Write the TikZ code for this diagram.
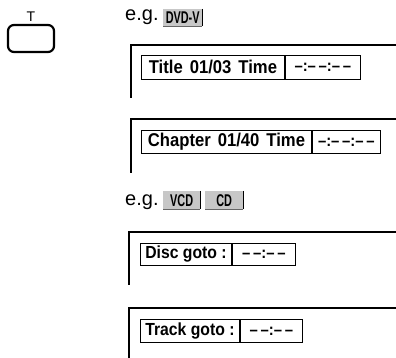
\documentclass[tikz,border=0pt]{standalone}
\usepackage{fontspec}
\setmainfont{Liberation Sans}
\newfontfamily\cond[FakeStretch=0.9]{Liberation Sans}
\newfontfamily\badgefont[FakeStretch=0.64]{Liberation Sans}
\begin{document}
\begin{tikzpicture}[x=1pt,y=-1pt,
  frame/.style={line width=2pt},
  cell/.style={draw, line width=0.9pt, inner sep=0pt, minimum height=24pt,
    font=\cond\bfseries\fontsize{18.5}{20}\selectfont, anchor=north west},
  gcell/.style={cell, font=\cond\bfseries\fontsize{17.5}{19}\selectfont},
  dcell/.style={cell, font=\cond\bfseries\fontsize{16.5}{18}\selectfont, anchor=west},
  badge/.style={fill=black!22, inner sep=0pt, minimum height=17pt,
    font=\badgefont\bfseries\fontsize{17}{18}\selectfont, anchor=north west},
  eg/.style={font=\fontsize{20}{22}\selectfont, anchor=base west, inner sep=0pt},
  btn/.style={draw, line width=2.2pt, rounded corners=6pt, minimum width=46pt,
    minimum height=27pt, inner sep=0pt}
]
\useasboundingbox (0,0) rectangle (396,358);

% button
\node[btn] (btn) at (31,38.5) {};
\node[font=\fontsize{14}{15}\selectfont, inner sep=0pt, anchor=south] (tlab) at (31,22) {T};

% DVD-V example
\node[eg] (eg1) at (125,21) {e.g.};
\node[badge, minimum width=39pt] (dvdv) at (163,9) {DVD-V};
\draw[line width=1.4pt] (dvdv.north east) -- (dvdv.south east);
\draw[line width=1pt, black!60] (dvdv.south west) -- (dvdv.south east);

% frame 1
\draw[frame] (396,45) -| (131,98);
\node[cell, minimum width=143pt] (title) at (141,55) {Title\hspace{7pt}01/03\hspace{7pt}Time};
\node[dcell, minimum width=75pt] (ttime) at (title.east) {–:–\,–:–\,–};

% frame 2
\draw[frame] (396,119) -| (131,173);
\node[cell, minimum width=170pt, minimum height=23pt] (chap) at (141,130) {Chapter\hspace{7pt}01/40\hspace{7pt}Time};
\node[dcell, minimum width=68pt, minimum height=23pt] (ctime) at (chap.east) {–:–\,–:–\,–};

% VCD/CD example
\node[eg] (eg2) at (125,205) {e.g.};
\node[badge, minimum width=37pt, minimum height=18pt] (vcd) at (163,191) {VCD};
\draw[line width=1.4pt] (vcd.north east) -- (vcd.south east);
\draw[line width=1pt, black!60] (vcd.south west) -- (vcd.south east);
\node[badge, minimum width=38pt, minimum height=18pt] (cd) at (205,191) {CD};
\draw[line width=1.4pt] (cd.north east) -- (cd.south east);
\draw[line width=1pt, black!60] (cd.south west) -- (cd.south east);

% frame 3
\draw[frame] (396,232) -| (129,285);
\node[gcell, minimum width=91pt, minimum height=22pt] (disc) at (140,243) {Disc goto :};
\node[dcell, minimum width=63pt, minimum height=22pt] (dtime) at (disc.east) {–\,–:–\,–};

% frame 4
\draw[frame] (396,308) -| (129,358);
\node[gcell, minimum width=99pt, minimum height=23pt] (track) at (140,319) {Track goto :};
\node[dcell, minimum width=62pt, minimum height=23pt] (trtime) at (track.east) {–\,–:–\,–};
\end{tikzpicture}
\end{document}
